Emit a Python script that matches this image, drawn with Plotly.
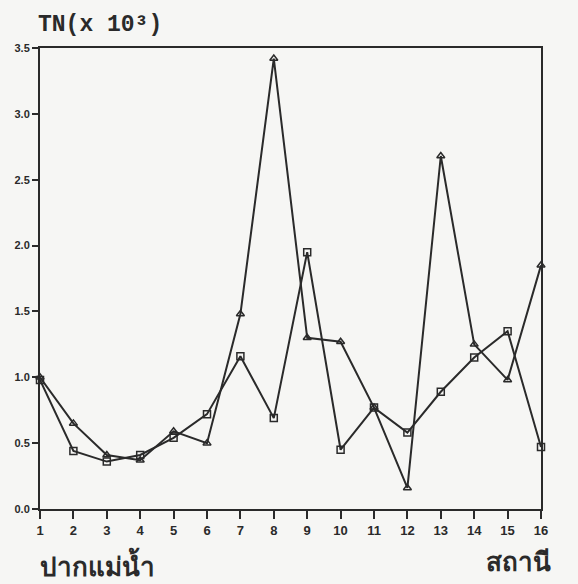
import plotly.graph_objects as go

stations = list(range(1, 17))
tn_triangle = [1.00, 0.65, 0.41, 0.37, 0.59, 0.50, 1.48, 3.42, 1.30, 1.27, 0.77, 0.16, 2.68, 1.25, 0.98, 1.85]
tn_square = [0.98, 0.44, 0.36, 0.41, 0.54, 0.72, 1.16, 0.69, 1.95, 0.45, 0.77, 0.58, 0.89, 1.15, 1.35, 0.47]
y_ticks = [0.0, 0.5, 1.0, 1.5, 2.0, 2.5, 3.0, 3.5]
y_tick_text = ["0.0", "0.5", "1.0", "1.5", "2.0", "2.5", "3.0", "3.5"]

ink = "#2a2a2a"
fig = go.Figure()
fig.add_trace(go.Scatter(x=stations, y=tn_triangle, mode="lines+markers",
                         line=dict(color=ink, width=2),
                         marker=dict(symbol="triangle-up-open", size=7, color=ink, line=dict(width=1.5)),
                         cliponaxis=False, showlegend=False))
fig.add_trace(go.Scatter(x=stations, y=tn_square, mode="lines+markers",
                         line=dict(color=ink, width=2),
                         marker=dict(symbol="square-open", size=7, color=ink, line=dict(width=1.5)),
                         cliponaxis=False, showlegend=False))

fig.update_layout(
    width=578, height=584,
    margin=dict(l=40, r=37, t=48, b=75),
    paper_bgcolor="#f6f6f4", plot_bgcolor="#f6f6f4",
    font=dict(family="Liberation Sans", color=ink),
    xaxis=dict(range=[1, 16], tickvals=stations, ticks="outside", ticklen=8, tickwidth=2,
               tickcolor=ink, showline=True, linecolor=ink, linewidth=2, mirror=True,
               showgrid=False, zeroline=False,
               tickfont=dict(family="Liberation Sans", size=13, weight="bold", color=ink)),
    yaxis=dict(range=[0, 3.5], tickvals=y_ticks, ticktext=y_tick_text, ticks="outside",
               ticklen=6, tickwidth=2, tickcolor=ink, showline=True, linecolor=ink,
               linewidth=2, mirror=True, showgrid=False, zeroline=False,
               tickfont=dict(family="Liberation Sans", size=11, weight="bold", color=ink)),
    annotations=[
        dict(text="TN(x 10³)", x=0, xref="paper", xanchor="left", xshift=-4,
             y=1, yref="paper", yanchor="bottom", yshift=8, showarrow=False,
             font=dict(family="Liberation Mono", size=23, weight="bold", color=ink)),
        dict(text="ปากแม่น้ำ", x=0, xref="paper", xanchor="left", xshift=-2,
             y=0, yref="paper", yanchor="top", yshift=-36, showarrow=False,
             font=dict(size=26, weight="bold", color=ink)),
        dict(text="สถานี", x=1, xref="paper", xanchor="right", xshift=12,
             y=0, yref="paper", yanchor="top", yshift=-36, showarrow=False,
             font=dict(size=26, weight="bold", color=ink)),
    ],
)
fig.write_html("out.html")
